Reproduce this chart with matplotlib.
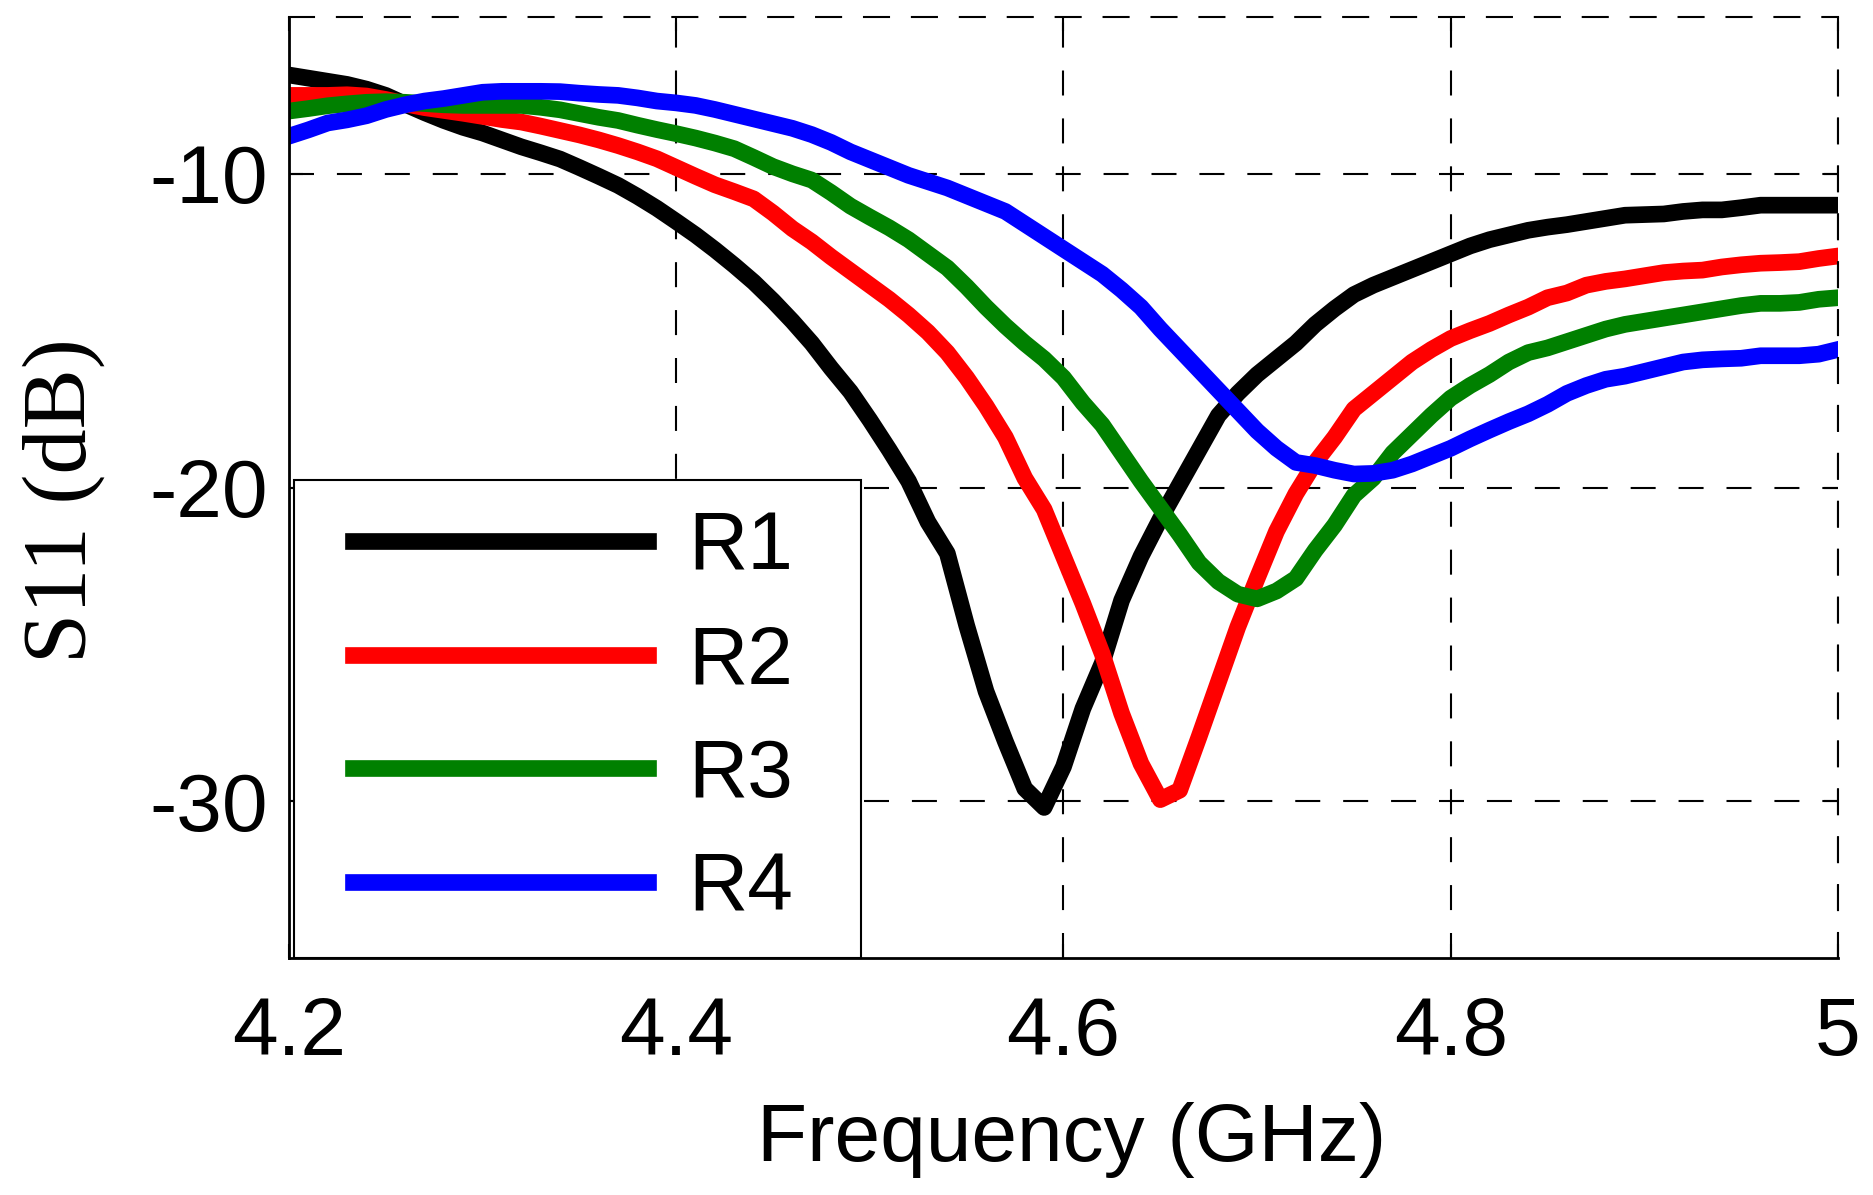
import numpy as np
import matplotlib
matplotlib.use("Agg")
import matplotlib.pyplot as plt
from matplotlib.font_manager import FontProperties
from matplotlib.legend_handler import HandlerLine2D

plt.rcParams['axes.unicode_minus'] = False

# frequency sweep (GHz) at 10 MHz steps
freq = [4.20, 4.21, 4.22, 4.23, 4.24, 4.25, 4.26, 4.27, 4.28, 4.29,
        4.30, 4.31, 4.32, 4.33, 4.34, 4.35, 4.36, 4.37, 4.38, 4.39,
        4.40, 4.41, 4.42, 4.43, 4.44, 4.45, 4.46, 4.47, 4.48, 4.49,
        4.50, 4.51, 4.52, 4.53, 4.54, 4.55, 4.56, 4.57, 4.58, 4.59,
        4.60, 4.61, 4.62, 4.63, 4.64, 4.65, 4.66, 4.67, 4.68, 4.69,
        4.70, 4.71, 4.72, 4.73, 4.74, 4.75, 4.76, 4.77, 4.78, 4.79,
        4.80, 4.81, 4.82, 4.83, 4.84, 4.85, 4.86, 4.87, 4.88, 4.89,
        4.90, 4.91, 4.92, 4.93, 4.94, 4.95, 4.96, 4.97, 4.98, 4.99, 5.00]

s11_r1 = [-6.85, -6.95, -7.05, -7.15, -7.3, -7.5, -7.78, -8.05, -8.3, -8.52,
          -8.7, -8.92, -9.14, -9.33, -9.53, -9.8, -10.08, -10.37, -10.72, -11.1,
          -11.52, -11.95, -12.42, -12.92, -13.45, -14.05, -14.7, -15.4, -16.2, -16.95,
          -17.85, -18.8, -19.8, -21.1, -22.1, -24.4, -26.5, -28.1, -29.6, -30.2,
          -28.9, -27.05, -25.6, -23.6, -22.2, -21.0, -19.9, -18.8, -17.7, -17.0,
          -16.4, -15.9, -15.4, -14.8, -14.3, -13.85, -13.55, -13.3, -13.05, -12.8,
          -12.55, -12.3, -12.1, -11.95, -11.8, -11.7, -11.62, -11.52, -11.42, -11.32,
          -11.3, -11.28, -11.2, -11.15, -11.15, -11.08, -11.0, -11.0, -11.0, -11.0, -11.0]

s11_r2 = [-7.5, -7.5, -7.5, -7.48, -7.52, -7.63, -7.77, -7.89, -7.98, -8.07,
          -8.17, -8.27, -8.35, -8.48, -8.62, -8.76, -8.92, -9.1, -9.3, -9.52,
          -9.8, -10.08, -10.35, -10.57, -10.8, -11.25, -11.75, -12.17, -12.65, -13.1,
          -13.55, -14.0, -14.5, -15.05, -15.7, -16.5, -17.4, -18.4, -19.7, -20.7,
          -22.2, -23.7, -25.3, -27.2, -28.8, -29.95, -29.65, -27.95, -26.2, -24.45,
          -22.9, -21.4, -20.2, -19.2, -18.4, -17.5, -17.0, -16.5, -16.0, -15.6,
          -15.25, -15.0, -14.77, -14.5, -14.25, -13.95, -13.8, -13.55, -13.43, -13.35,
          -13.25, -13.15, -13.1, -13.07, -12.97, -12.9, -12.85, -12.83, -12.8, -12.7, -12.62]

s11_r3 = [-8.0, -7.92, -7.83, -7.77, -7.72, -7.7, -7.72, -7.76, -7.8, -7.82,
          -7.82, -7.82, -7.82, -7.88, -7.96, -8.08, -8.2, -8.3, -8.45, -8.59,
          -8.72, -8.86, -9.02, -9.2, -9.48, -9.77, -10.0, -10.2, -10.6, -11.03,
          -11.38, -11.72, -12.1, -12.55, -13.0, -13.6, -14.25, -14.85, -15.4, -15.9,
          -16.5, -17.3, -18.0, -18.9, -19.8, -20.65, -21.5, -22.4, -23.0, -23.4,
          -23.55, -23.3, -22.9, -22.0, -21.2, -20.25, -19.7, -18.9, -18.3, -17.7,
          -17.15, -16.75, -16.4, -16.0, -15.7, -15.55, -15.35, -15.15, -14.95, -14.8,
          -14.7, -14.6, -14.5, -14.4, -14.3, -14.2, -14.13, -14.13, -14.1, -14.0, -13.95]

s11_r4 = [-8.8, -8.6, -8.38, -8.28, -8.15, -7.95, -7.8, -7.68, -7.6, -7.5,
          -7.4, -7.37, -7.37, -7.37, -7.38, -7.43, -7.47, -7.5, -7.58, -7.68,
          -7.74, -7.82, -7.95, -8.1, -8.25, -8.4, -8.55, -8.75, -9.0, -9.3,
          -9.55, -9.8, -10.05, -10.25, -10.45, -10.7, -10.95, -11.2, -11.6, -12.0,
          -12.4, -12.8, -13.2, -13.7, -14.25, -14.95, -15.6, -16.25, -16.9, -17.55,
          -18.2, -18.75, -19.2, -19.3, -19.45, -19.57, -19.55, -19.45, -19.25, -19.0,
          -18.75, -18.45, -18.17, -17.9, -17.65, -17.35, -17.0, -16.75, -16.55, -16.45,
          -16.3, -16.15, -16.0, -15.93, -15.9, -15.88, -15.8, -15.8, -15.8, -15.75, -15.6]

series = [s11_r1, s11_r2, s11_r3, s11_r4]
labels = ['R1', 'R2', 'R3', 'R4']
colors = ['#000000', '#FF0000', '#008000', '#0000FF']

xticks = [4.2, 4.4, 4.6, 4.8, 5.0]
xtick_labels = ['4.2', '4.4', '4.6', '4.8', '5']
yticks = [-30, -20, -10]
ytick_labels = ['-30', '-20', '-10']

sans = 'Liberation Sans'
serif = 'Liberation Serif'
dash = (0, (12, 11))

fig = plt.figure(figsize=(18.74, 11.95), dpi=100)
ax = fig.add_axes([0.1542, 0.1983, 0.8266, 0.7875])

for vals, col, lab in zip(series, colors, labels):
    ax.plot(freq, vals, color=col, lw=12, label=lab, solid_joinstyle='round')

ax.set_xlim(4.2, 5.0)
ax.set_ylim(-35, -5)
ax.set_xticks(xticks)
ax.set_xticklabels(xtick_labels, fontsize=59, family=sans)
ax.set_yticks(yticks)
ax.set_yticklabels(ytick_labels, fontsize=59, family=sans)
ax.tick_params(direction='in', length=10, width=1.5, top=True, right=True)
ax.tick_params(axis='x', pad=27)
ax.tick_params(axis='y', pad=15)

ax.set_axisbelow(True)
ax.grid(True, color='k', lw=1.5, linestyle=dash)

for side in ['left', 'bottom']:
    ax.spines[side].set_linewidth(2)
for side in ['top', 'right']:
    ax.spines[side].set_linewidth(1.5)
    ax.spines[side].set_linestyle(dash)

ax.set_xlabel('Frequency (GHz)', fontsize=59, family=sans)
ax.xaxis.set_label_coords(0.505, -0.153)
ax.set_ylabel('S11 (dB)', fontsize=65, family=serif)
ax.yaxis.set_label_coords(-0.119, 0.486)

leg = ax.legend(loc='lower left', bbox_to_anchor=(0.003, 0.0, 0.366, 0.5),
                mode='expand', borderaxespad=0,
                fancybox=False, edgecolor='k', framealpha=1,
                borderpad=0.37, labelspacing=0.46, handlelength=3.95,
                handletextpad=0.5, prop=FontProperties(family=sans, size=59),
                handler_map={matplotlib.lines.Line2D: HandlerLine2D(xpad=0.36)})
leg.get_frame().set_linewidth(1.5)

fig.savefig('out.png', dpi=100)
